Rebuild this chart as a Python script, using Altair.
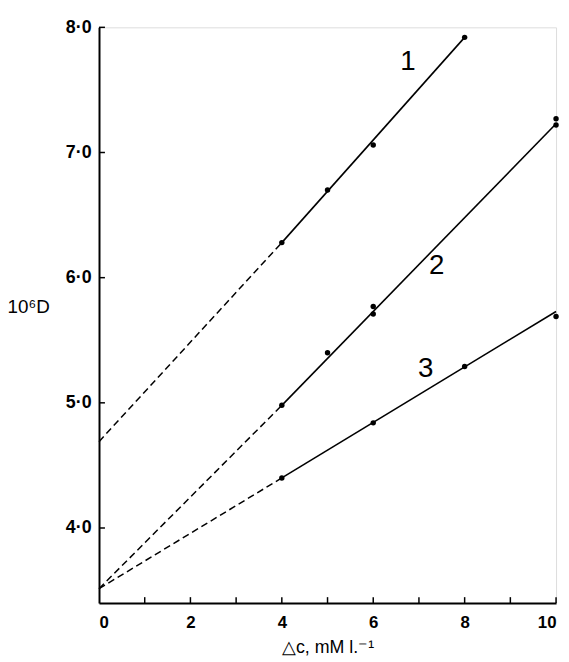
import altair as alt
import pandas as pd

# Measured points (Δc in mM/l, 10^6 D)
x_pts_1 = [4, 5, 6, 8]
y_pts_1 = [6.28, 6.70, 7.06, 7.92]
x_pts_2 = [4, 5, 6, 6, 10, 10]
y_pts_2 = [4.98, 5.40, 5.77, 5.71, 7.27, 7.22]
x_pts_3 = [4, 6, 8, 10]
y_pts_3 = [4.40, 4.84, 5.29, 5.69]

# Fitted lines: intercept (dashed part from 0 to 4), then solid part
series = ["1", "2", "3"]
intercepts = [4.69, 3.515, 3.515]
x_mid = [4, 4, 4]
y_mid = [6.28, 4.98, 4.40]
x_end = [8, 10, 10]
y_end = [7.92, 7.23, 5.73]

# Curve labels
label_x = [6.76, 7.39, 7.15]
label_y = [7.72, 6.09, 5.27]

# Axis ticks
x_label_values = [0, 2, 4, 6, 8, 10]
x_tick_values = [1, 2, 3, 4, 5, 6, 7, 8, 9, 10]
y_tick_values = [4.0, 5.0, 6.0, 7.0, 8.0]

W, H = 462, 582

pts = pd.DataFrame({
    "x": x_pts_1 + x_pts_2 + x_pts_3,
    "y": y_pts_1 + y_pts_2 + y_pts_3,
    "s": ["1"] * len(x_pts_1) + ["2"] * len(x_pts_2) + ["3"] * len(x_pts_3),
})

rows = []
for s, b, xm, ym, xe, ye in zip(series, intercepts, x_mid, y_mid, x_end, y_end):
    rows.append({"s": s, "part": "dash", "x": 0, "y": b})
    rows.append({"s": s, "part": "dash", "x": xm, "y": ym})
    rows.append({"s": s, "part": "solid", "x": xm, "y": ym})
    rows.append({"s": s, "part": "solid", "x": xe, "y": ye})
lines = pd.DataFrame(rows)

labels = pd.DataFrame({"x": label_x, "y": label_y, "t": series})
xt = pd.DataFrame({"x": x_tick_values})
yt = pd.DataFrame({"y": y_tick_values})

FONT = "Liberation Sans"

xscale = alt.Scale(domain=[0, 10], nice=False, zero=False)
yscale = alt.Scale(domain=[3.4, 8.0], nice=False, zero=False)

xax = alt.Axis(values=x_label_values, ticks=False, grid=False, labelFontSize=17,
               labelFont=FONT, labelFontWeight="bold", labelColor="black", labelPadding=12,
               domainColor="black", domainWidth=2,
               title="△c, mM l.⁻¹", titleFont=FONT, titleFontSize=18,
               titleFontWeight="normal", titleColor="black", titlePadding=8)
yax = alt.Axis(values=y_tick_values, ticks=False, grid=False, labelFontSize=18,
               labelFont=FONT, labelFontWeight="bold", labelColor="black", labelPadding=8,
               format=".1f", labelExpr="replace(datum.label, '.', '·')",
               domainColor="black", domainWidth=2,
               title="10⁶D", titleFont=FONT, titleFontSize=19,
               titleFontWeight="normal", titleColor="black", titleAngle=0,
               titleAlign="left", titleBaseline="middle", titleX=-93, titleY=282)

base_x = alt.X("x:Q", scale=xscale, axis=xax)
base_y = alt.Y("y:Q", scale=yscale, axis=yax)

dash = alt.Chart(lines).transform_filter(alt.datum.part == "dash").mark_line(
    color="black", strokeWidth=1.5, strokeDash=[7, 4]
).encode(x=base_x, y=base_y, detail="s:N")

solid = alt.Chart(lines).transform_filter(alt.datum.part == "solid").mark_line(
    color="black", strokeWidth=1.6
).encode(x=alt.X("x:Q", scale=xscale), y=alt.Y("y:Q", scale=yscale), detail="s:N")

points = alt.Chart(pts).mark_circle(color="black", opacity=1, size=30).encode(
    x=alt.X("x:Q", scale=xscale), y=alt.Y("y:Q", scale=yscale)
)

text = alt.Chart(labels).mark_text(font=FONT, fontSize=28, color="black").encode(
    x=alt.X("x:Q", scale=xscale), y=alt.Y("y:Q", scale=yscale), text="t:N"
)

xticks = alt.Chart(xt).mark_rule(color="black", strokeWidth=1.5).encode(
    x=alt.X("x:Q", scale=xscale), y=alt.value(H), y2=alt.value(H - 6)
)
yticks = alt.Chart(yt).mark_rule(color="black", strokeWidth=1.5).encode(
    y=alt.Y("y:Q", scale=yscale), x=alt.value(0), x2=alt.value(6)
)

chart = alt.layer(dash, solid, points, text, xticks, yticks).properties(
    width=W, height=H,
    autosize=alt.AutoSizeParams(type="none"),
    padding={"left": 92, "top": 16, "right": 5, "bottom": 56},
).configure_view(stroke=None).configure(background="white")

chart.save("out.html", embed_options={"renderer": "svg", "actions": False})
